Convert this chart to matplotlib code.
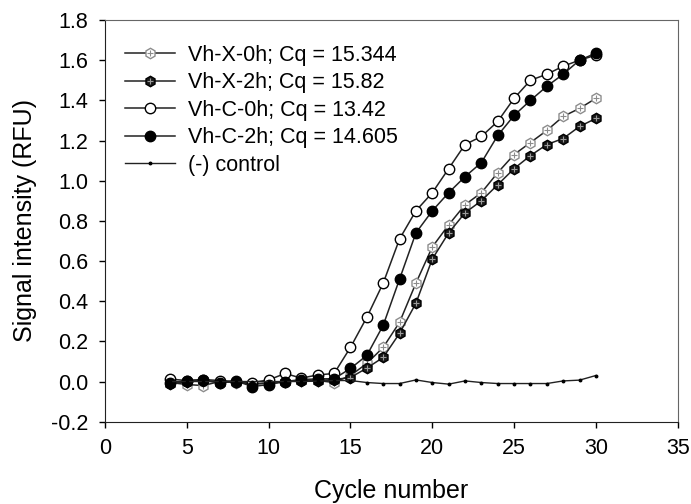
import matplotlib
matplotlib.use("Agg")
import matplotlib.pyplot as plt
from matplotlib.legend_handler import HandlerTuple

plt.rcParams['font.family'] = ['Liberation Sans', 'DejaVu Sans']

cycles = list(range(4, 31))

vh_x_0h = [-0.005, -0.015, -0.02, 0.0, -0.005, -0.01, -0.01, 0.0, 0.005, 0.005, -0.005,
           0.03, 0.09, 0.17, 0.295, 0.49, 0.67, 0.78, 0.88, 0.94, 1.04, 1.13, 1.19, 1.25, 1.32, 1.36, 1.41]
vh_x_2h = [-0.01, 0.0, 0.005, -0.005, 0.0, -0.015, -0.005, 0.0, 0.005, 0.005, 0.01,
           0.02, 0.067, 0.12, 0.24, 0.39, 0.61, 0.74, 0.84, 0.90, 0.98, 1.06, 1.125, 1.18, 1.21, 1.27, 1.31]
vh_c_0h = [0.012, 0.005, 0.01, 0.005, 0.0, -0.005, 0.008, 0.04, 0.017, 0.033, 0.04,
           0.17, 0.32, 0.49, 0.71, 0.85, 0.94, 1.06, 1.18, 1.22, 1.295, 1.41, 1.50, 1.53, 1.57, 1.60, 1.625]
vh_c_2h = [-0.008, 0.005, 0.008, -0.005, 0.003, -0.025, -0.015, 0.0, 0.01, 0.013, 0.014,
           0.065, 0.13, 0.28, 0.51, 0.74, 0.85, 0.94, 1.02, 1.09, 1.225, 1.325, 1.40, 1.47, 1.53, 1.60, 1.635]
control = [0.0, 0.0, 0.0, 0.0, 0.0, 0.0, 0.0, 0.0, 0.0, 0.002, 0.005,
           0.005, -0.005, -0.01, -0.01, 0.008, -0.005, -0.013, 0.003, -0.005, -0.01, -0.01, -0.01, -0.01, 0.003, 0.007, 0.03]

labels = ['Vh-X-0h; Cq = 15.344', 'Vh-X-2h; Cq = 15.82', 'Vh-C-0h; Cq = 13.42',
          'Vh-C-2h; Cq = 14.605', '(-) control']

fig = plt.figure(figsize=(6.91, 5.04), dpi=100)
ax = fig.add_axes([0.152, 0.1633, 0.8288, 0.797])

# Vh-X series: hexagon marker with a small cross inside
l1, = ax.plot(cycles, vh_x_0h, color='#222222', lw=1.1, marker='h', ms=7.5,
              mfc='white', mec='#8c8c8c', mew=1.0)
p1, = ax.plot(cycles, vh_x_0h, ls='none', marker='+', ms=4, mec='#8c8c8c', mew=0.8)
l2, = ax.plot(cycles, vh_x_2h, color='#222222', lw=1.1, marker='h', ms=7.5,
              mfc='#1a1a1a', mec='black', mew=1.0)
p2, = ax.plot(cycles, vh_x_2h, ls='none', marker='+', ms=4, mec='#9a9a9a', mew=0.8)
l3, = ax.plot(cycles, vh_c_0h, color='#222222', lw=1.1, marker='o', ms=7.5,
              mfc='white', mec='black', mew=1.0)
l4, = ax.plot(cycles, vh_c_2h, color='#222222', lw=1.1, marker='o', ms=7.5,
              mfc='black', mec='black', mew=1.0)
l5, = ax.plot(cycles, control, color='#222222', lw=1.0, marker='o', ms=1.8,
              mfc='black', mec='black')

ax.set_xlim(0, 35)
ax.set_ylim(-0.2, 1.8)
ax.set_xticks(range(0, 36, 5))
ax.set_yticks([-0.2, 0.0, 0.2, 0.4, 0.6, 0.8, 1.0, 1.2, 1.4, 1.6, 1.8])
ax.set_yticklabels(['-0.2', '0.0', '0.2', '0.4', '0.6', '0.8', '1.0', '1.2', '1.4', '1.6', '1.8'])
ax.tick_params(direction='out', length=4, width=1, labelsize=15.5, pad=8)

for side in ['top', 'right']:
    ax.spines[side].set_color('#666666')
for side in ['left', 'bottom']:
    ax.spines[side].set_color('#222222')

ax.set_xlabel('Cycle number', fontsize=18, labelpad=14)
ax.set_ylabel('Signal intensity (RFU)', fontsize=18, labelpad=10)

ax.legend([(l1, p1), (l2, p2), l3, l4, l5], labels,
          handler_map={tuple: HandlerTuple(ndivide=1, pad=0)},
          loc='upper left', bbox_to_anchor=(0.02, 0.96), frameon=False,
          fontsize=15.5, handlelength=2.3, handletextpad=0.6, labelspacing=0.3,
          borderaxespad=0)

fig.savefig('out.png', dpi=100)
